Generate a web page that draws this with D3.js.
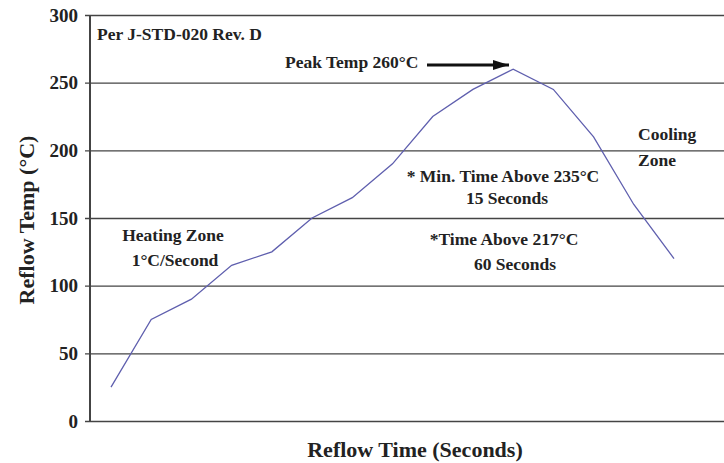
<!DOCTYPE html>
<html>
<head>
<meta charset="utf-8">
<script src="https://cdn.jsdelivr.net/npm/d3@7"></script>
<style>
  body { margin: 0; background: #fff; }
  svg { display: block; }
  text { font-family: "Liberation Serif", "Times New Roman", serif; font-weight: bold; fill: #222; }
</style>
</head>
<body>
<div id="chart"></div>
<script>
// reflow profile, one sample per step
var steps = [0, 1, 2, 3, 4, 5, 6, 7, 8, 9, 10, 11, 12, 13, 14];
var temps = [25, 75, 90, 115, 125, 150, 165, 190, 225, 245, 260, 245, 210, 160, 120];
var yTicks = [0, 50, 100, 150, 200, 250, 300];

var width = 724,
    height = 463;

var x = d3.scaleLinear()
    .domain([0, 14])
    .range([111, 674]);

var y = d3.scaleLinear()
    .domain([0, 300])
    .range([421, 15]);

var svg = d3.select('#chart')
    .append('svg')
    .attr('width', width)
    .attr('height', height);

// gridlines + ticks
var yAxis = d3.axisLeft(y)
    .tickValues(yTicks)
    .tickSize(-(width - 90))
    .tickSizeOuter(0)
    .tickPadding(12);

var gy = svg.append('g')
    .attr('transform', 'translate(90,0)')
    .call(yAxis);
gy.select('.domain').remove();
gy.selectAll('.tick line')
    .attr('x1', -5)
    .attr('stroke', '#444')
    .attr('stroke-width', 1.4);
gy.selectAll('.tick text')
    .style('font-family', '"Liberation Serif", serif')
    .style('font-weight', 'bold')
    .style('font-size', '19px')
    .attr('fill', '#222');

// left axis line
svg.append('line')
    .attr('x1', 90).attr('x2', 90)
    .attr('y1', y(300)).attr('y2', y(0))
    .attr('stroke', '#444')
    .attr('stroke-width', 2);

var line = d3.line()
    .x(function(d, i) { return x(steps[i]); })
    .y(function(d) { return y(d); });

svg.append('path')
    .datum(temps)
    .attr('d', line)
    .attr('fill', 'none')
    .attr('stroke', '#5f5fae')
    .attr('stroke-width', 1.3);

// peak arrow
svg.append('defs').append('marker')
    .attr('id', 'head')
    .attr('viewBox', '0 0 10 10')
    .attr('refX', 10).attr('refY', 5)
    .attr('markerWidth', 5.5).attr('markerHeight', 3.4)
    .attr('markerUnits', 'strokeWidth')
    .attr('orient', 'auto')
    .attr('preserveAspectRatio', 'none')
    .append('path')
    .attr('d', 'M0,0L10,5L0,10z')
    .attr('fill', '#111');

svg.append('line')
    .attr('x1', 427).attr('x2', 509)
    .attr('y1', 65).attr('y2', 65)
    .attr('stroke', '#111')
    .attr('stroke-width', 3)
    .attr('marker-end', 'url(#head)');

var notes = [
    {t: 'Per J-STD-020 Rev. D', x: 97, y: 40, a: 'start'},
    {t: 'Peak Temp 260°C', x: 285, y: 68, a: 'start'},
    {t: 'Heating Zone', x: 173, y: 241, a: 'middle'},
    {t: '1°C/Second', x: 175, y: 266, a: 'middle'},
    {t: '* Min. Time Above 235°C', x: 503, y: 182, a: 'middle'},
    {t: '15 Seconds', x: 507, y: 204, a: 'middle'},
    {t: '*Time Above 217°C', x: 504, y: 245, a: 'middle'},
    {t: '60 Seconds', x: 515, y: 270, a: 'middle'},
    {t: 'Cooling', x: 638, y: 140, a: 'start'},
    {t: 'Zone', x: 638, y: 166, a: 'start'}
];

svg.selectAll('text.note')
    .data(notes)
    .enter()
    .append('text')
    .attr('class', 'note')
    .attr('x', function(d) { return d.x; })
    .attr('y', function(d) { return d.y; })
    .attr('text-anchor', function(d) { return d.a; })
    .style('font-size', '17.5px')
    .text(function(d) { return d.t; });

svg.append('text')
    .attr('transform', 'translate(34,220) rotate(-90)')
    .attr('text-anchor', 'middle')
    .style('font-size', '22px')
    .text('Reflow Temp (°C)');

svg.append('text')
    .attr('x', 415)
    .attr('y', 457)
    .attr('text-anchor', 'middle')
    .style('font-size', '22px')
    .text('Reflow Time (Seconds)');
</script>
</body>
</html>
